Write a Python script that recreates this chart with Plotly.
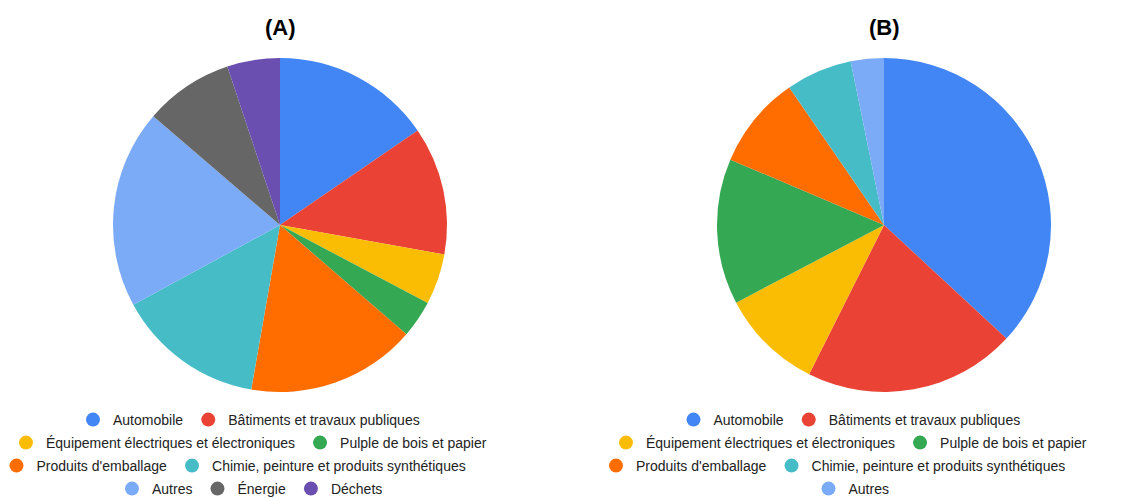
import plotly.graph_objects as go

categories_a = ["Automobile", "Bâtiments et travaux publiques",
                "Équipement électriques et électroniques", "Pulple de bois et papier",
                "Produits d'emballage", "Chimie, peinture et produits synthétiques",
                "Autres", "Énergie", "Déchets"]
values_a = [15.4, 12.4, 4.9, 3.6, 16.4, 14.3, 19.2, 8.6, 5.1]

categories_b = ["Automobile", "Bâtiments et travaux publiques",
                "Équipement électriques et électroniques", "Pulple de bois et papier",
                "Produits d'emballage", "Chimie, peinture et produits synthétiques",
                "Autres"]
values_b = [36.9, 20.5, 9.9, 14.1, 9.0, 6.4, 3.2]

colors = {
    "Automobile": "#4285F4",
    "Bâtiments et travaux publiques": "#EA4335",
    "Équipement électriques et électroniques": "#FBBC04",
    "Pulple de bois et papier": "#34A853",
    "Produits d'emballage": "#FF6D01",
    "Chimie, peinture et produits synthétiques": "#46BDC6",
    "Autres": "#7BAAF7",
    "Énergie": "#666666",
    "Déchets": "#6A4FB0",
}

rows_a = [[0, 1], [2, 3], [4, 5], [6, 7, 8]]
rows_b = [[0, 1], [2, 3], [4, 5], [6]]

W, H = 1145, 498
FONT = "Liberation Sans, Arial, sans-serif"

fig = go.Figure()

def pie_domain(cx):
    r = 167
    return dict(x=[(cx - r) / W, (cx + r) / W], y=[1 - 392 / H, 1 - 58 / H])

fig.add_trace(go.Pie(labels=categories_a, values=values_a, sort=False,
                     direction="clockwise", rotation=0, textinfo="none",
                     marker=dict(colors=[colors[c] for c in categories_a], line=dict(width=0)),
                     showlegend=False, domain=pie_domain(280)))
fig.add_trace(go.Pie(labels=categories_b, values=values_b, sort=False,
                     direction="clockwise", rotation=0, textinfo="none",
                     marker=dict(colors=[colors[c] for c in categories_b], line=dict(width=0)),
                     showlegend=False, domain=pie_domain(884)))

row_y = [420, 443, 466, 489]
row_x_a = [249, 249, 234, 250]
row_x_b = [849.5, 849, 833.5, 851.5]
legend_layouts = {}
idx = 0
for cats, rows, xs in [(categories_a, rows_a, row_x_a), (categories_b, rows_b, row_x_b)]:
    for ri, row in enumerate(rows):
        idx += 1
        lname = "legend" if idx == 1 else f"legend{idx}"
        for ci in row:
            c = cats[ci]
            fig.add_trace(go.Scatter(x=[None], y=[None], mode="markers", name=c,
                                     marker=dict(size=14, color=colors[c]),
                                     legend=lname, showlegend=True, hoverinfo="skip"))
        legend_layouts[lname] = dict(orientation="h", xref="container", yref="container",
                                     x=xs[ri] / W, xanchor="center",
                                     y=1 - row_y[ri] / H, yanchor="middle",
                                     font=dict(family=FONT, size=14, color="#222222"),
                                     bgcolor="rgba(0,0,0,0)", itemclick=False,
                                     itemdoubleclick=False, tracegroupgap=0)

fig.update_layout(**legend_layouts)

fig.update_layout(
    width=W, height=H,
    margin=dict(l=0, r=0, t=0, b=0, autoexpand=False),
    paper_bgcolor="white", plot_bgcolor="white",
    xaxis=dict(visible=False), yaxis=dict(visible=False),
    annotations=[
        dict(text="<b>(A)</b>", x=280 / W, y=1 - 27 / H, xref="paper", yref="paper",
             xanchor="center", yanchor="middle", showarrow=False,
             font=dict(family=FONT, size=22, color="#000000")),
        dict(text="<b>(B)</b>", x=884 / W, y=1 - 27 / H, xref="paper", yref="paper",
             xanchor="center", yanchor="middle", showarrow=False,
             font=dict(family=FONT, size=22, color="#000000")),
    ],
)

fig.write_html("out.html", config={"displayModeBar": False},
               post_script="document.body.style.margin='0';document.body.style.overflow='hidden';")
